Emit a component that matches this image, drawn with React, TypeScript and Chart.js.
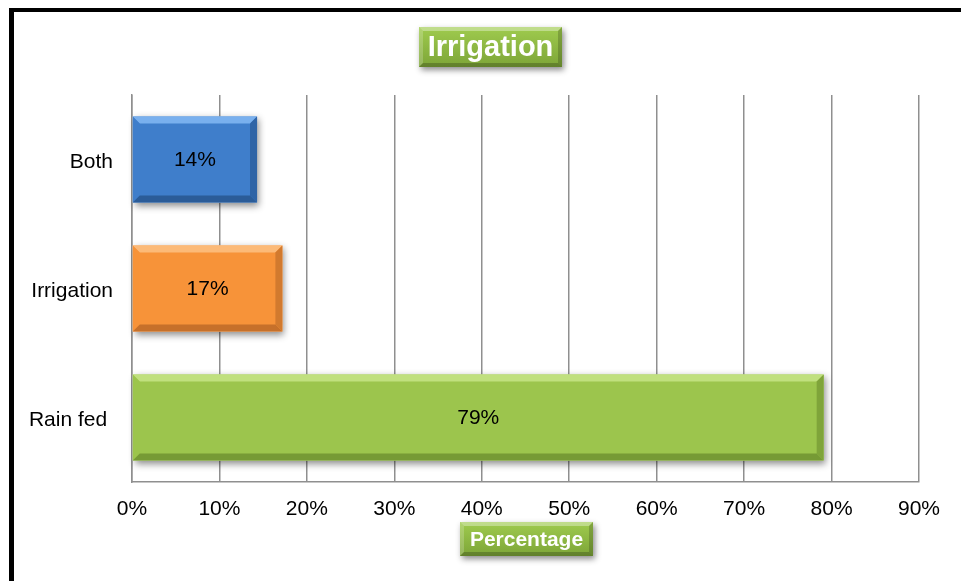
import React, { useEffect, useRef } from "react";
import { Chart, registerables } from "chart.js";

Chart.register(...registerables);

const categories = ["Both", "Irrigation", "Rain fed "];
const values = [14.3, 17.2, 79.1];
const chartTitle = "Irrigation";
const axisTitle = "Percentage";
const xTicks = [0, 10, 20, 30, 40, 50, 60, 70, 80, 90];

const palettes = [
  { main: "#3f7ecb", light: "#79b0ee", dark: "#2b5c98", side: "#2f64a6" },
  { main: "#f79339", light: "#fcba78", dark: "#c6702a", side: "#d27a2e" },
  { main: "#9cc54d", light: "#c0e07e", dark: "#769a35", side: "#7fa43a" },
];

const FONT = "'Liberation Sans', Arial, sans-serif";

function drawBox(ctx: CanvasRenderingContext2D, x: number, y: number, w: number, h: number, text: string, size: number) {
  const s = 4;
  ctx.save();
  ctx.shadowColor = "rgba(0,0,0,0.45)";
  ctx.shadowBlur = 6;
  ctx.shadowOffsetX = 2;
  ctx.shadowOffsetY = 3;
  const g = ctx.createLinearGradient(0, y, 0, y + h);
  g.addColorStop(0, "#9fcb4e");
  g.addColorStop(1, "#7da538");
  ctx.fillStyle = g;
  ctx.fillRect(x, y, w, h);
  ctx.restore();
  ctx.save();
  ctx.fillStyle = "rgba(255,255,255,0.35)";
  ctx.beginPath();
  ctx.moveTo(x, y); ctx.lineTo(x + w, y); ctx.lineTo(x + w - s, y + s); ctx.lineTo(x + s, y + s); ctx.closePath(); ctx.fill();
  ctx.fillStyle = "rgba(255,255,255,0.2)";
  ctx.beginPath();
  ctx.moveTo(x, y); ctx.lineTo(x + s, y + s); ctx.lineTo(x + s, y + h - s); ctx.lineTo(x, y + h); ctx.closePath(); ctx.fill();
  ctx.fillStyle = "rgba(0,0,0,0.22)";
  ctx.beginPath();
  ctx.moveTo(x, y + h); ctx.lineTo(x + w, y + h); ctx.lineTo(x + w - s, y + h - s); ctx.lineTo(x + s, y + h - s); ctx.closePath(); ctx.fill();
  ctx.fillStyle = "rgba(0,0,0,0.18)";
  ctx.beginPath();
  ctx.moveTo(x + w, y); ctx.lineTo(x + w, y + h); ctx.lineTo(x + w - s, y + h - s); ctx.lineTo(x + w - s, y + s); ctx.closePath(); ctx.fill();
  ctx.fillStyle = "#ffffff";
  ctx.font = `bold ${size}px ${FONT}`;
  ctx.textAlign = "center";
  ctx.textBaseline = "middle";
  ctx.fillText(text, x + w / 2, y + h / 2 + 1);
  ctx.restore();
}

const decorPlugin = {
  id: "decor",
  beforeDraw(chart: any) {
    const ctx = chart.ctx as CanvasRenderingContext2D;
    ctx.save();
    ctx.fillStyle = "#ffffff";
    ctx.fillRect(0, 0, chart.width, chart.height);
    ctx.fillStyle = "#000000";
    ctx.fillRect(9, 8, chart.width, 4);
    ctx.fillRect(9, 8, 5, chart.height);
    ctx.restore();
  },
  beforeDatasetsDraw(chart: any) {
    const ctx = chart.ctx as CanvasRenderingContext2D;
    const meta = chart.getDatasetMeta(0);
    ctx.save();
    meta.data.forEach((bar: any) => {
      const l = bar.base, r = bar.x, t = bar.y - bar.height / 2, b = bar.y + bar.height / 2;
      ctx.shadowColor = "rgba(0,0,0,0.45)";
      ctx.shadowBlur = 7;
      ctx.shadowOffsetX = 2;
      ctx.shadowOffsetY = 3;
      ctx.fillStyle = "#ffffff";
      ctx.fillRect(l, t, r - l, b - t);
    });
    ctx.restore();
  },
  afterDatasetsDraw(chart: any) {
    const ctx = chart.ctx as CanvasRenderingContext2D;
    const meta = chart.getDatasetMeta(0);
    ctx.save();
    meta.data.forEach((bar: any, i: number) => {
      const p = palettes[i];
      const l = bar.base, r = bar.x, t = bar.y - bar.height / 2, b = bar.y + bar.height / 2;
      const s = 7;
      ctx.fillStyle = p.light;
      ctx.beginPath();
      ctx.moveTo(l, t); ctx.lineTo(r, t); ctx.lineTo(r - s, t + s); ctx.lineTo(l + s, t + s); ctx.closePath(); ctx.fill();
      ctx.fillStyle = p.main;
      ctx.globalAlpha = 0.6;
      ctx.beginPath();
      ctx.moveTo(l, t); ctx.lineTo(l + s, t + s); ctx.lineTo(l + s, b - s); ctx.lineTo(l, b); ctx.closePath(); ctx.fill();
      ctx.globalAlpha = 1;
      ctx.fillStyle = p.dark;
      ctx.beginPath();
      ctx.moveTo(l, b); ctx.lineTo(r, b); ctx.lineTo(r - s, b - s); ctx.lineTo(l + s, b - s); ctx.closePath(); ctx.fill();
      ctx.fillStyle = p.side;
      ctx.beginPath();
      ctx.moveTo(r, t); ctx.lineTo(r, b); ctx.lineTo(r - s, b - s); ctx.lineTo(r - s, t + s); ctx.closePath(); ctx.fill();
      ctx.fillStyle = "#000000";
      ctx.font = `21px ${FONT}`;
      ctx.textAlign = "center";
      ctx.textBaseline = "middle";
      ctx.fillText(Math.round(values[i]) + "%", (l + r) / 2, bar.y + 1);
    });
    ctx.restore();
  },
  afterDraw(chart: any) {
    const ctx = chart.ctx as CanvasRenderingContext2D;
    drawBox(ctx, 419, 27, 143, 40, chartTitle, 29);
    drawBox(ctx, 460, 522, 133, 34, axisTitle, 21);
  },
};

export default function App() {
  const ref = useRef<HTMLCanvasElement | null>(null);
  useEffect(() => {
    if (!ref.current) return;
    const gridColor = "#8f8f8f";
    const chart = new Chart(ref.current, {
      type: "bar",
      data: {
        labels: categories,
        datasets: [
          {
            data: values,
            backgroundColor: palettes.map((p) => p.main),
            borderWidth: 0,
            categoryPercentage: 0.667,
            barPercentage: 1,
          },
        ],
      },
      options: {
        indexAxis: "y",
        responsive: false,
        animation: false,
        layout: { padding: { top: 95, right: 42, left: 0, bottom: 0 } },
        plugins: { legend: { display: false }, tooltip: { enabled: false }, title: { display: false } },
        scales: {
          x: {
            min: 0,
            max: 90,
            afterBuildTicks: (scale: any) => {
              scale.ticks = xTicks.map((v) => ({ value: v }));
            },
            afterFit: (scale: any) => {
              scale.height = 99;
            },
            grid: { color: gridColor, lineWidth: 1.5, drawTicks: false },
            border: { display: true, color: gridColor, width: 1.5 },
            ticks: {
              padding: 15,
              color: "#000000",
              font: { family: FONT, size: 21 },
              callback: (v: any) => v + "%",
            },
          },
          y: {
            afterFit: (scale: any) => {
              scale.width = 132;
            },
            grid: { display: true, drawOnChartArea: false, drawTicks: false },
            border: { display: true, color: gridColor, width: 1.5 },
            ticks: {
              padding: 19,
              labelOffset: 2.5,
              color: "#000000",
              font: { family: FONT, size: 21 },
            },
          },
        },
      },
      plugins: [decorPlugin],
    });
    return () => chart.destroy();
  }, []);
  return (
    <div style={{ position: "absolute", left: 0, top: 0, width: 961, height: 581 }}>
      <canvas ref={ref} width={961} height={581} style={{ display: "block" }} />
    </div>
  );
}
